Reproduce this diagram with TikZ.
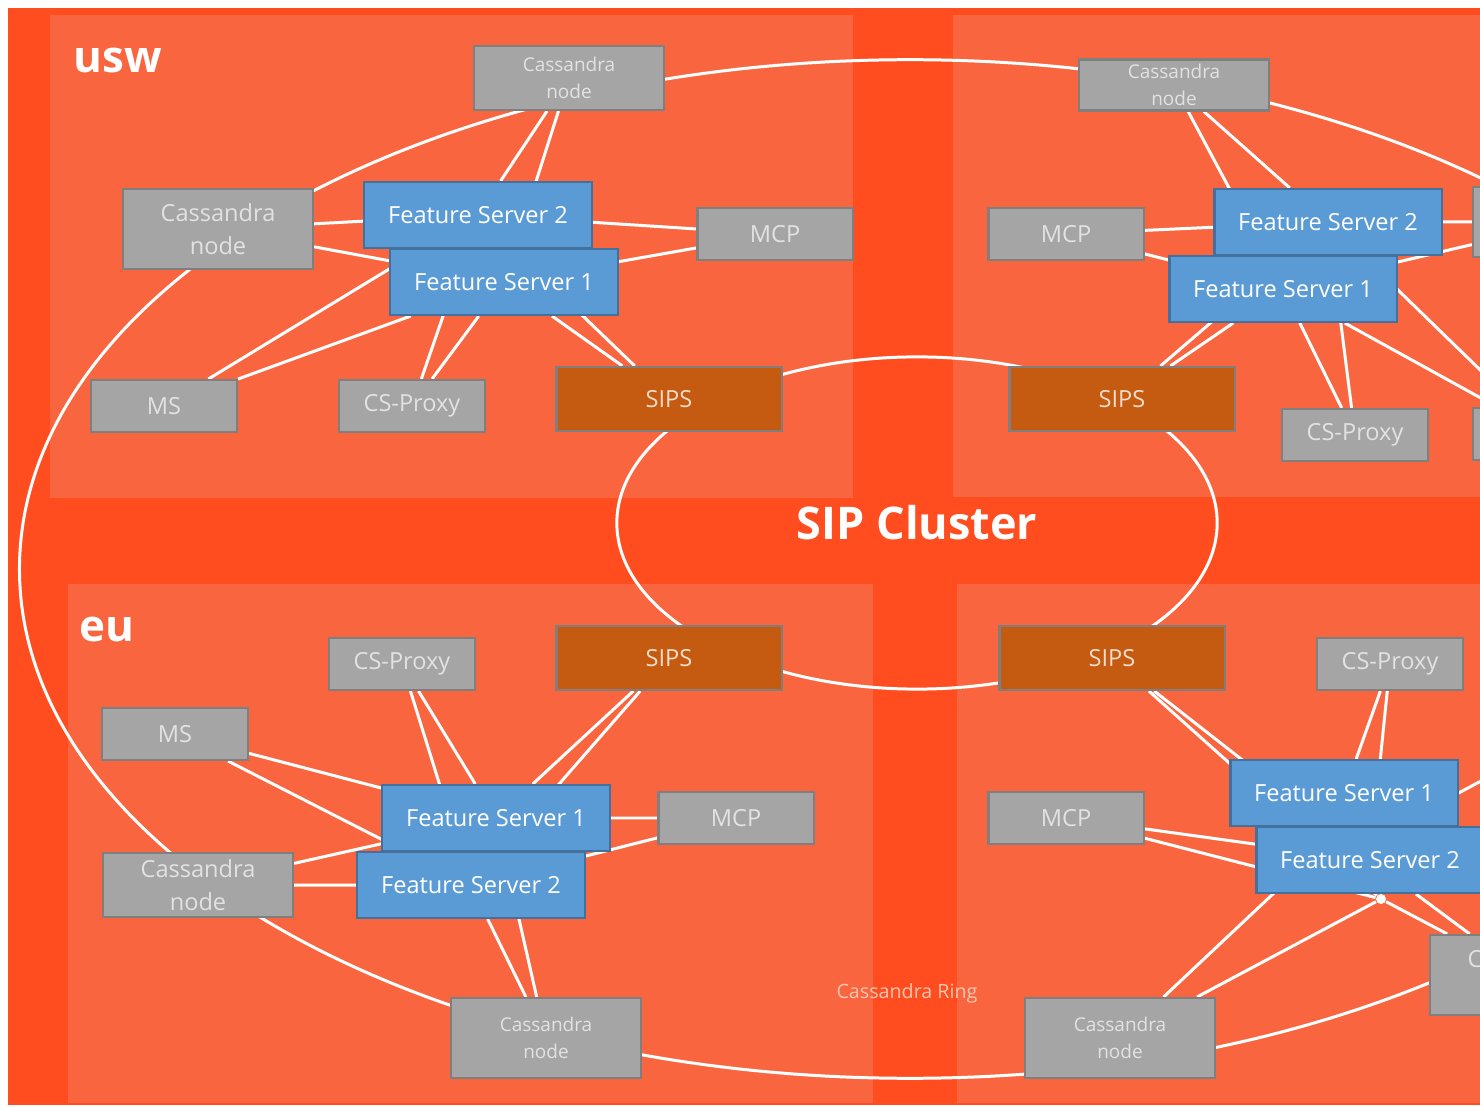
\documentclass[tikz,border=0pt]{standalone}
\usepackage{fontspec}
\setmainfont{Open Sans}

\definecolor{bgred}{HTML}{FF4D1F}
\definecolor{panel}{HTML}{F9653F}
\definecolor{cgray}{HTML}{A5A5A5}
\definecolor{cedge}{HTML}{7F7F7F}
\definecolor{ctext}{HTML}{E2E2E2}
\definecolor{fsblue}{HTML}{5B9BD5}
\definecolor{fsedge}{HTML}{41719C}
\definecolor{sipfill}{HTML}{C55A11}
\definecolor{siptext}{HTML}{F5DDCB}
\definecolor{ringtext}{HTML}{F8C6B2}

\pgfdeclarelayer{bg}
\pgfsetlayers{bg,main}

\begin{document}
\begin{tikzpicture}[x=0.01cm, y=-0.01cm,
  box/.style={draw=cedge, line width=0.6pt, inner sep=0pt, align=center,
    font=\fontsize{6.7}{9.4}\selectfont},
  casnode/.style={box, fill=cgray, text=ctext, minimum width=1.9cm},
  cassmall/.style={casnode, font=\fontsize{5.4}{7.7}\selectfont},
  fsnode/.style={box, draw=fsedge, fill=fsblue, text=white,
    minimum width=2.27cm, minimum height=0.66cm},
  mcpnode/.style={box, fill=cgray, text=ctext, minimum width=1.55cm, minimum height=0.52cm},
  graynode/.style={box, fill=cgray, text=ctext, minimum width=1.46cm, minimum height=0.52cm},
  sipsnode/.style={box, fill=sipfill, text=siptext, minimum width=2.25cm, minimum height=0.64cm},
  hubdot/.style={circle, fill=white, inner sep=0pt, minimum size=0.1cm},
  link/.style={white, line width=0.85pt},
  region/.style={font=\bfseries\fontsize{12.5}{14}\selectfont, text=white}]

\clip (0,0) rectangle (1480,1107);
\useasboundingbox (0,0) rectangle (1480,1107);

% usw
\node[region] (uswLabel) at (118,61) {usw};
\node[cassmall, minimum height=0.64cm] (uswCa) at (569,78) {Cassandra\\node};
\node[casnode, minimum height=0.8cm] (uswCb) at (218,229) {Cassandra\\node};
\node[fsnode] (uswFSb) at (478,215) {Feature Server 2};
\node[fsnode] (uswFSa) at (504,282) {Feature Server 1};
\node[mcpnode] (uswMCP) at (775,234) {MCP};
\node[graynode] (uswMS) at (164,406) {MS};
\node[graynode] (uswCSP) at (412,406) {CS-Proxy};
\node[sipsnode] (uswSIPS) at (669,399) {SIPS};

% top right
\node[cassmall, minimum height=0.51cm] (neCa) at (1174,85) {Cassandra\\node};
\node[mcpnode] (neMCP) at (1066,234) {MCP};
\node[fsnode] (neFSb) at (1328,222) {Feature Server 2};
\node[fsnode] (neFSa) at (1283,289) {Feature Server 1};
\node[sipsnode] (neSIPS) at (1122,399) {SIPS};
\node[graynode] (neCSP) at (1355,435) {CS-Proxy};
\node[casnode, minimum height=0.7cm] (neCb) at (1568,222) {};
\node[graynode] (neMS) at (1546,434) {};

% eu
\node[region] (euLabel) at (107,629) {eu};
\node[graynode] (euCSP) at (402,664) {CS-Proxy};
\node[sipsnode] (euSIPS) at (669,658) {SIPS};
\node[graynode] (euMS) at (175,734) {MS};
\node[fsnode] (euFSa) at (496,818) {Feature Server 1};
\node[mcpnode] (euMCP) at (736,818) {MCP};
\node[casnode, minimum height=0.64cm] (euCb) at (198,885) {Cassandra\\node};
\node[fsnode] (euFSb) at (471,885) {Feature Server 2};
\node[cassmall, minimum height=0.8cm] (euCa) at (546,1038) {Cassandra\\node};

% bottom right
\node[sipsnode] (seSIPS) at (1112,658) {SIPS};
\node[graynode] (seCSP) at (1390,664) {CS-Proxy};
\node[fsnode] (seFSa) at (1344,793) {Feature Server 1};
\node[mcpnode] (seMCP) at (1066,818) {MCP};
\node[fsnode] (seFSb) at (1370,860) {Feature Server 2};
\node[cassmall, minimum height=0.8cm] (seCa) at (1120,1038) {Cassandra\\node};
\node[casnode, minimum height=0.8cm] (seCb) at (1525,975) {Cassandra\\node};
\node[hubdot] (seHub) at (1381,899) {};
\coordinate (seOff) at (1580,728);

\node[font=\bfseries\fontsize{12.8}{14}\selectfont, text=white] (sipLabel) at (917,523) {SIP Cluster};
\node[font=\fontsize{5.6}{7}\selectfont, text=ringtext] (ringLabel) at (907,993) {Cassandra Ring};

\begin{pgfonlayer}{bg}
  \fill[bgred] (8,8) rectangle (1480,1105);
  \fill[panel] (50,15) rectangle (853,498);
  \fill[panel] (953,15) rectangle (1480,497);
  \fill[panel] (68,584) rectangle (873,1103);
  \fill[panel] (957,584) rectangle (1480,1103);
  % rings
  \draw[link] (910,569) ellipse [x radius=8.9cm, y radius=5.09cm];
  \draw[link] (917,523) ellipse [x radius=3cm, y radius=1.66cm];
  % usw
  \draw[link] (uswCa) -- (uswFSb) (uswCa) -- (uswFSa);
  \draw[link] (uswCb) -- (uswFSb) (uswCb) -- (uswFSa);
  \draw[link] (uswMCP) -- (uswFSb) (uswMCP) -- (uswFSa);
  \draw[link] (uswMS) -- (uswFSb) (uswMS) -- (uswFSa);
  \draw[link] (uswCSP) -- (uswFSb) (uswCSP) -- (uswFSa);
  \draw[link] (uswSIPS) -- (uswFSb) (uswSIPS) -- (uswFSa);
  % top right
  \draw[link] (neCa) -- (neFSb) (neCa) -- (neFSa);
  \draw[link] (neMCP) -- (neFSb) (neMCP) -- (neFSa);
  \draw[link] (neCb) -- (neFSb) (neCb) -- (neFSa);
  \draw[link] (neMS) -- (neFSb) (neMS) -- (neFSa);
  \draw[link] (neCSP) -- (neFSb) (neCSP) -- (neFSa);
  \draw[link] (neSIPS) -- (neFSb) (neSIPS) -- (neFSa);
  % eu
  \draw[link] (euCSP) -- (euFSb) (euCSP) -- (euFSa);
  \draw[link] (euSIPS) -- (euFSb) (euSIPS) -- (euFSa);
  \draw[link] (euMS) -- (euFSb) (euMS) -- (euFSa);
  \draw[link] (euMCP) -- (euFSb) (euMCP) -- (euFSa);
  \draw[link] (euCb) -- (euFSb) (euCb) -- (euFSa);
  \draw[link] (euCa) -- (euFSb) (euCa) -- (euFSa);
  % bottom right
  \draw[link] (seSIPS) -- (seFSb) (seSIPS) -- (seHub);
  \draw[link] (seCSP) -- (seFSb) (seCSP) -- (seFSa);
  \draw[link] (seMCP) -- (seFSb) (seMCP) -- (seHub);
  \draw[link] (seCa) -- (seFSa.south) (seCa) -- (seHub);
  \draw[link] (seCb) -- (seHub) (seCb) -- (seFSb);
  \draw[link] (seFSa.east) -- (seOff);
\end{pgfonlayer}
\end{tikzpicture}
\end{document}
